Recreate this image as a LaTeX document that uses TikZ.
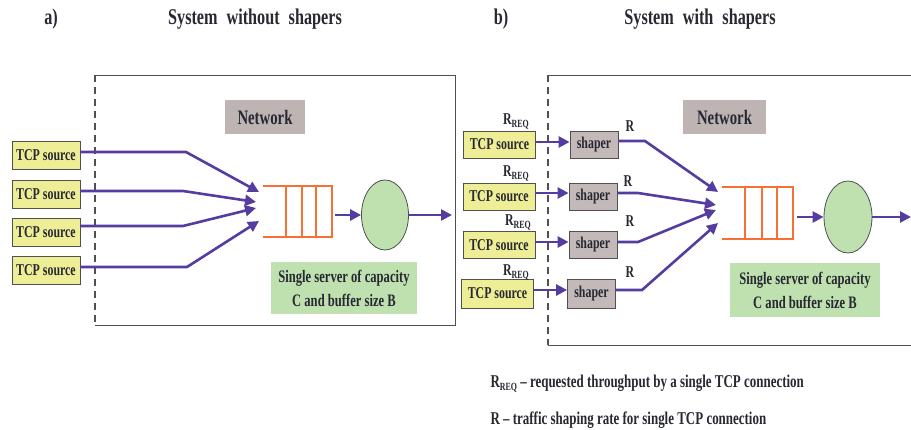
\documentclass[tikz,border=0pt]{standalone}
\usepackage{fontspec}
\setmainfont{Liberation Serif}[FakeStretch=0.72]
\usetikzlibrary{arrows.meta,shapes.geometric}
\definecolor{srcyel}{RGB}{238,238,150}
\definecolor{purp}{RGB}{85,60,160}
\definecolor{qorange}{RGB}{245,112,50}
\definecolor{lgreen}{RGB}{190,225,175}
\definecolor{netgray}{RGB}{190,180,180}
\definecolor{shgray}{RGB}{195,185,185}
\definecolor{edgegray}{RGB}{80,80,80}
\definecolor{txt}{RGB}{40,40,50}
\newcommand{\rreq}{R\raisebox{-3pt}{\fontsize{11}{12}\selectfont REQ}}
\newcommand{\ttlfont}{\bfseries\fontsize{22.5}{24}\selectfont\spaceskip=0.4em\relax}
\begin{document}
\begin{tikzpicture}[x=1pt,y=-1pt,
  font=\bfseries\fontsize{16.5}{18}\selectfont, text=txt,
  srcbox/.style={draw=edgegray, line width=0.8pt, fill=srcyel, minimum width=68pt, minimum height=28pt, inner sep=0pt},
  shbox/.style={draw=edgegray, line width=0.8pt, fill=shgray, minimum width=48pt, minimum height=27pt, inner sep=0pt},
  netbox/.style={fill=netgray, minimum width=80pt, minimum height=34pt, inner sep=0pt, font=\bfseries\fontsize{20.5}{22}\selectfont},
  lblbox/.style={fill=lgreen, minimum width=146pt, minimum height=52pt, inner sep=0pt, align=center, font=\bfseries\fontsize{17.5}{24}\selectfont},
  flow/.style={draw=purp, line width=2.6pt, -{Triangle[length=11pt,width=11pt]}},
  frame/.style={draw=edgegray, line width=0.9pt},
  dframe/.style={draw=edgegray, line width=1.2pt, dash pattern=on 7pt off 5pt},
  queue/.style={draw=qorange, line width=2.4pt},
  server/.style={ellipse, draw=edgegray, line width=0.8pt, fill=lgreen, minimum width=47pt, minimum height=70pt, inner sep=0pt},
  ttl/.style={font=\ttlfont},
  note/.style={font=\bfseries\fontsize{18}{20}\selectfont, anchor=west}
]
\useasboundingbox (0,0) rectangle (911,430);

% titles
\node[ttl] (ta) at (51,19) {a)};
\node[ttl] (tta) at (255,19) {System without shapers};
\node[ttl] (tb) at (501,19) {b)};
\node[ttl] (ttb) at (700,19) {System with shapers};

% ---------- panel a ----------
\draw[frame] (95,75) -- (455,75) -- (455,325) -- (95,325);
\draw[dframe] (95,75) -- (95,325);
\node[netbox] (neta) at (265,117.5) {Network};

\node[srcbox] (sa1) at (46,155) {TCP source};
\node[srcbox] (sa2) at (46,194) {TCP source};
\node[srcbox] (sa3) at (46,232.5) {TCP source};
\node[srcbox] (sa4) at (46,270.5) {TCP source};

% queue a
\draw[queue] (263,186) -- (332,186) -- (332,237) -- (263,237);
\draw[queue] (286,186) -- (286,237);
\draw[queue] (302,186) -- (302,237);
\draw[queue] (316,186) -- (316,237);
\coordinate (qa1) at (259,192);
\coordinate (qa2) at (256,202);
\coordinate (qa3) at (256,208);
\coordinate (qa4) at (259,221);
\coordinate (qaout) at (335,215);

\node[server] (srva) at (385,215) {};
\coordinate (outa) at (452,215);

\draw[flow] (sa1.east |- 0,152) -- (186,152) -- (qa1);
\draw[flow] (sa2.east |- 0,191) -- (183,191) -- (qa2);
\draw[flow] (sa3.east |- 0,226) -- (183,226) -- (qa3);
\draw[flow] (sa4.east |- 0,267) -- (187,267) -- (qa4);
\draw[flow] (qaout) -- (srva.west);
\draw[flow] (srva.east) -- (outa);

\node[lblbox] (lbla) at (344,288) {Single server of capacity\\C and buffer size B};

% ---------- panel b ----------
\draw[frame] (548,75) -- (912,75);
\draw[frame] (548,345) -- (912,345);
\draw[dframe] (548,75) -- (548,345);
\node[netbox, minimum width=83pt] (netb) at (724.5,117.5) {Network};

\node[srcbox, minimum width=72pt, minimum height=27pt] (sb1) at (499.5,144.5) {TCP source};
\node[srcbox, minimum width=72pt, minimum height=27pt] (sb2) at (499,196.5) {TCP source};
\node[srcbox, minimum width=72pt, minimum height=27pt] (sb3) at (499,245) {TCP source};
\node[srcbox, minimum width=72pt, minimum height=29pt] (sb4) at (497.5,293.5) {TCP source};

\node[shbox] (sh1) at (594,144.5) {shaper};
\node[shbox] (sh2) at (593,196.5) {shaper};
\node[shbox] (sh3) at (593,245) {shaper};
\node[shbox, minimum height=29pt] (sh4) at (591.5,293.5) {shaper};

\node (rq1) at (516,121) {\rreq};
\node (rq2) at (516,173) {\rreq};
\node (rq3) at (518,222) {\rreq};
\node (rq4) at (516,272) {\rreq};

\node (r1) at (630,126) {R};
\node (r2) at (628,181) {R};
\node (r3) at (630,221) {R};
\node (r4) at (630,272) {R};

\draw[flow] (sb1.east |- 0,142) -- (sh1.west |- 0,142);
\draw[flow] (sb2.east |- 0,193) -- (sh2.west |- 0,193);
\draw[flow] (sb3.east |- 0,242) -- (sh3.west |- 0,242);
\draw[flow] (sb4.east |- 0,290) -- (sh4.west |- 0,290);

% queue b
\draw[queue] (722,187) -- (793,187) -- (793,239) -- (722,239);
\draw[queue] (745,187) -- (745,239);
\draw[queue] (762,187) -- (762,239);
\draw[queue] (777,187) -- (777,239);
\coordinate (qb1) at (718,192);
\coordinate (qb2) at (716,205);
\coordinate (qb3) at (716,210);
\coordinate (qb4) at (718,223);
\coordinate (qbout) at (797,217);

\node[server, minimum width=48pt, minimum height=72pt] (srvb) at (848,217) {};
\coordinate (outb) at (911,217);

\draw[flow] (sh1.east |- 0,141) -- (645,141) -- (qb1);
\draw[flow] (sh2.east |- 0,193) -- (638,193) -- (qb2);
\draw[flow] (sh3.east |- 0,242) -- (638,242) -- (qb3);
\draw[flow] (sh4.east |- 0,290) -- (642,290) -- (qb4);
\draw[flow] (qbout) -- (srvb.west);
\draw[flow] (srvb.east) -- (outb);

\node[lblbox, minimum width=150pt, minimum height=54pt] (lblb) at (805,290) {Single server of capacity\\C and buffer size B};

% legend
\node[note] (n1) at (487,384) {\rreq\ -- requested throughput by a single TCP connection};
\node[note] (n2) at (487,420) {R -- traffic shaping rate for single TCP connection};
\end{tikzpicture}
\end{document}
